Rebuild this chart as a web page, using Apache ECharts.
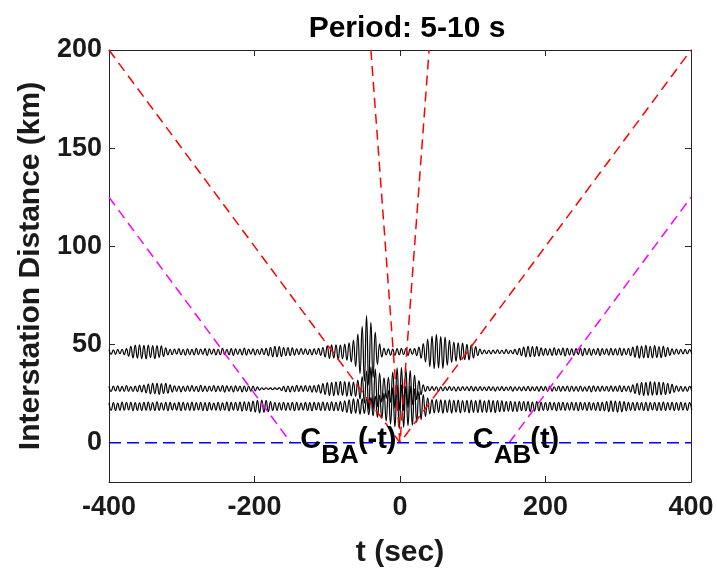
<!DOCTYPE html>
<html>
<head>
<meta charset="utf-8">
<script src="https://cdn.jsdelivr.net/npm/echarts@6/dist/echarts.min.js"></script>
<style>
  html, body { margin: 0; padding: 0; background: #ffffff; }
  #chart { width: 717px; height: 569px; }
</style>
</head>
<body>
<div id="chart"></div>
<script>
// Axis ranges and ticks
const xTicks = [-400, -200, 0, 200, 400];
const yTicks = [0, 50, 100, 150, 200];
const xRange = [-400, 400];
const yRange = [-20, 200];

// Cross-correlation traces: sample grid (s) and interstation distance (km) of each trace
const traceStart = -400;
const traceStep = 3;
const traceDistances = [46.3, 27.5, 18.5];

// Trace amplitudes (km of vertical offset) at successive half-period extremes
const traceA = [
  1.1,-1.2,1.0,-1.3,1.2,-1.0,1.3,-1.4,1.6,-2.2,
  2.8,-3.1,3.4,-3.2,3.6,-3.5,3.3,-3.6,3.4,-3.0,
  3.2,-3.5,3.1,-2.8,3.0,-2.4,2.0,-1.6,1.3,-1.5,
  1.4,-1.2,1.6,-1.5,1.3,-1.7,1.5,-1.4,1.2,-1.6,
  1.8,-1.5,1.4,-1.3,1.6,-1.8,1.5,-1.2,1.4,-1.6,
  1.3,-1.5,1.7,-1.4,1.2,-1.5,1.6,-1.8,1.5,-1.3,
  1.4,-1.6,1.9,-1.7,1.4,-1.2,1.5,-1.6,1.3,-1.4,
  1.6,-1.5,1.8,-2.0,2.3,-2.6,2.8,-2.5,2.7,-2.4,
  2.2,-2.0,2.1,-1.9,2.0,-1.7,1.5,-1.4,1.6,-1.3,
  1.5,-1.4,1.2,-1.6,1.5,-1.3,1.7,-1.8,2.2,-2.6,
  3.0,-3.4,3.6,-3.2,3.5,-3.8,3.4,-3.6,3.9,-4.2,
  4.6,-5.2,6.0,-7.5,9.0,-11.0,13.0,-15.0,18.5,-17.0,
  15.0,-13.0,10.0,-6.5,4.0,-2.6,1.8,-1.6,1.5,-1.7,
  1.4,-1.8,1.6,-1.5,1.7,-1.4,1.6,-1.8,1.5,-1.3,
  1.6,-1.9,2.4,-3.2,4.2,-5.2,6.5,-7.5,8.0,-8.5,
  8.8,-8.2,7.8,-8.4,7.5,-6.8,6.0,-5.4,5.0,-4.8,
  4.6,-4.2,4.4,-4.0,3.8,-4.1,3.6,-3.2,2.6,-2.0,
  1.4,-1.1,0.9,-1.0,0.8,-1.1,0.9,-0.8,1.0,-0.9,
  0.8,-1.0,1.1,-0.9,0.8,-1.0,1.2,-1.4,1.7,-2.0,
  2.4,-2.6,2.8,-2.5,2.7,-2.4,2.6,-2.2,2.0,-1.8,
  1.6,-1.7,1.5,-1.8,2.0,-1.7,1.5,-1.6,1.9,-2.1,
  1.8,-1.6,1.5,-1.7,1.6,-1.4,1.8,-2.0,1.7,-1.5,
  1.6,-1.8,1.4,-1.5,1.7,-1.9,1.6,-1.4,1.5,-1.7,
  1.8,-1.6,1.5,-1.7,1.9,-1.8,1.6,-1.5,1.7,-2.0,
  2.4,-2.7,3.0,-3.2,2.9,-3.1,3.3,-3.0,2.8,-3.1,
  3.2,-2.9,2.7,-3.0,2.8,-2.5,2.2,-1.8,1.5,-1.3,
  1.4,-1.2,1.3,-1.1,1.2,-1.0,1.1,-1.0
];
const traceB = [
  1.2,-1.4,1.3,-1.1,1.5,-1.3,1.2,-1.4,1.6,-1.3,
  1.1,-1.4,1.3,-1.5,1.7,-1.6,1.8,-2.1,2.4,-2.6,
  2.8,-2.5,2.7,-2.9,2.6,-2.4,2.7,-2.3,2.0,-1.7,
  1.5,-1.3,1.4,-1.6,1.2,-1.4,1.5,-1.3,1.6,-1.4,
  1.2,-1.5,1.7,-1.4,1.3,-1.5,1.4,-1.2,1.6,-1.5,
  1.3,-1.4,1.6,-1.7,1.5,-1.3,1.4,-1.6,1.5,-1.2,
  1.4,-1.6,1.3,-1.5,1.4,-1.2,1.3,-1.1,0.9,-0.7,
  0.5,-0.4,0.5,-0.3,0.4,-0.5,0.4,-0.3,0.6,-0.9,
  1.2,-1.5,1.4,-1.6,1.3,-1.5,1.7,-1.4,1.5,-1.3,
  1.6,-1.4,1.5,-1.7,1.6,-1.8,2.0,-2.3,2.6,-2.9,
  3.1,-3.4,3.2,-3.6,3.5,-3.3,3.7,-3.4,3.6,-3.8,
  3.5,-3.7,3.4,-3.9,4.4,-5.2,6.2,-7.4,9.0,-10.5,
  11.0,-10.6,10.0,-9.2,8.0,-6.8,5.6,-5.0,5.8,-7.0,
  8.5,-9.8,10.6,-11.0,10.8,-11.2,10.4,-9.6,9.2,-8.2,
  7.0,-5.6,4.2,-3.0,2.0,-1.4,1.2,-1.0,1.1,-0.9,
  1.0,-1.2,0.9,-1.1,1.0,-0.8,1.1,-0.9,1.0,-1.2,
  0.9,-1.0,1.1,-0.8,0.9,-1.0,1.2,-1.1,0.9,-1.0,
  1.1,-0.9,0.8,-1.0,1.1,-0.9,1.0,-1.2,1.0,-0.9,
  1.1,-1.0,0.8,-0.9,1.1,-1.2,1.0,-0.9,1.0,-1.1,
  0.9,-1.0,1.2,-1.1,0.9,-1.0,1.1,-1.3,1.2,-1.0,
  1.1,-1.3,1.4,-1.2,1.0,-1.1,1.3,-1.4,1.2,-1.1,
  1.3,-1.5,1.4,-1.2,1.1,-1.3,1.4,-1.2,1.0,-1.2,
  1.4,-1.6,1.5,-1.3,1.2,-1.4,1.3,-1.1,1.2,-1.4,
  1.5,-1.3,1.2,-1.4,1.6,-1.5,1.3,-1.2,1.4,-1.7,
  2.0,-2.4,2.8,-3.1,3.3,-3.5,3.2,-3.4,3.6,-3.3,
  3.5,-3.2,3.4,-3.1,3.3,-3.0,2.8,-2.5,2.2,-1.8,
  1.5,-1.3,1.2,-1.4,1.1,-1.3,1.2,-1.0
];
const traceC = [
  1.8,-2.0,1.9,-2.1,1.7,-2.0,2.2,-1.9,2.0,-1.8,
  2.1,-2.2,1.9,-2.0,1.8,-2.1,2.0,-1.9,2.2,-2.0,
  1.9,-2.1,2.3,-2.0,1.8,-1.9,2.1,-2.2,2.0,-1.8,
  1.7,-1.9,2.0,-2.2,2.1,-1.9,1.8,-2.0,2.2,-2.1,
  1.9,-1.8,2.0,-2.1,1.9,-2.2,2.0,-1.8,1.7,-1.9,
  2.1,-2.0,1.8,-1.9,2.2,-2.3,2.0,-1.9,2.1,-2.0,
  2.2,-2.4,2.3,-2.1,2.2,-2.5,2.7,-2.9,3.1,-3.3,
  3.2,-3.0,3.1,-2.7,2.4,-2.1,1.9,-2.0,1.8,-1.9,
  2.1,-2.0,1.8,-1.9,2.0,-2.2,2.1,-1.9,1.7,-1.8,
  2.0,-2.1,1.9,-2.2,2.0,-1.8,1.9,-2.1,2.2,-2.0,
  1.9,-2.1,2.3,-2.2,2.0,-2.1,2.4,-2.6,2.8,-3.1,
  3.3,-3.6,3.8,-3.5,3.7,-4.0,3.8,-3.6,3.9,-4.2,
  4.5,-4.8,5.2,-5.6,5.8,-6.2,6.8,-7.4,8.2,-9.0,
  9.6,-10.4,10.8,-11.4,11.0,-10.6,10.2,-9.8,10.4,-9.6,
  9.0,-8.2,7.6,-6.8,6.0,-5.2,4.4,-3.8,3.5,-3.3,
  3.4,-3.1,3.3,-3.5,3.2,-3.0,3.3,-3.4,3.1,-2.9,
  3.2,-3.3,3.0,-2.8,3.1,-3.3,3.2,-3.0,2.9,-3.1,
  3.3,-3.0,2.8,-3.1,3.2,-2.9,3.0,-3.2,2.9,-2.7,
  2.8,-2.6,2.5,-2.4,2.6,-2.5,2.3,-2.6,2.4,-2.2,
  2.5,-2.3,2.4,-2.6,2.2,-2.4,2.5,-2.3,2.1,-2.0,
  1.9,-2.1,2.0,-1.8,1.9,-2.2,2.0,-1.9,2.1,-2.0,
  1.8,-1.9,2.1,-2.0,1.9,-2.2,2.0,-1.8,1.9,-2.1,
  2.0,-1.9,1.8,-2.0,2.1,-2.2,2.0,-2.3,2.5,-2.7,
  2.8,-2.6,2.7,-2.9,2.6,-2.8,2.5,-2.3,2.1,-2.0,
  1.9,-2.1,2.0,-1.8,1.9,-2.1,2.0,-2.2,1.9,-1.8,
  2.0,-2.1,1.9,-2.0,2.2,-2.1,1.9,-1.8,2.0,-2.1,
  1.9,-2.0,2.1,-1.9,1.8,-2.0,1.9,-1.8
];

// Moveout lines [t (s), distance (km)]
const fastMoveout = [[-40, 200], [0, 0], [40, 200]];
const slowMoveout = [[-400, 200], [0, 0], [400, 200]];
const windowLeft = [[-400, 125], [-150, 0]];
const windowRight = [[150, 0], [400, 125]];
const zeroLine = [[-400, 0], [400, 0]];

// Branch annotations: anchor time (s), main letter, subscript, suffix
const branchLabels = [
  { t: -137, main: 'C', sub: 'BA', tail: '(-t)' },
  { t: 100, main: 'C', sub: 'AB', tail: '(t)' }
];

const FONT = 'Liberation Sans, Arial, Helvetica, sans-serif';
const AXIS_COLOR = '#262626';

function traceData(amps, dist) {
  return amps.map((a, i) => [traceStart + traceStep * i, dist + a]);
}

const traces = [traceA, traceB, traceC];

const chart = echarts.init(document.getElementById('chart'), null, { renderer: 'canvas' });

const dashed = (color) => ({ color: color, width: 1.5, type: [10, 6] });

const axisCommon = {
  axisLine: { show: true, onZero: false, lineStyle: { color: AXIS_COLOR, width: 1 } },
  axisTick: { show: true, inside: true, length: 6, lineStyle: { color: AXIS_COLOR, width: 1 } },
  splitLine: { show: false }
};

const option = {
  backgroundColor: '#ffffff',
  animation: false,
  title: {
    text: 'Period: 5-10 s',
    left: 402,
    top: 9,
    textAlign: 'center',
    textStyle: { fontFamily: FONT, fontSize: 30, fontWeight: 'bold', color: '#000000' }
  },
  grid: { left: 109, right: 26, top: 50, bottom: 87, containLabel: false, outerBoundsMode: 'none' },
  xAxis: [
    Object.assign({}, axisCommon, {
      type: 'value', position: 'bottom', min: xRange[0], max: xRange[1], interval: 200,
      axisLabel: { customValues: xTicks, fontFamily: FONT, fontSize: 27, fontWeight: 'bold', color: '#1a1a1a', margin: 12 },
      axisTick: Object.assign({}, axisCommon.axisTick, { customValues: xTicks }),
      name: 't (sec)', nameLocation: 'middle', nameGap: 56,
      nameTextStyle: { fontFamily: FONT, fontSize: 30, fontWeight: 'bold', color: '#1a1a1a' }
    }),
    Object.assign({}, axisCommon, {
      type: 'value', position: 'top', min: xRange[0], max: xRange[1], interval: 200,
      axisLabel: { show: false },
      axisTick: Object.assign({}, axisCommon.axisTick, { customValues: xTicks })
    })
  ],
  yAxis: [
    Object.assign({}, axisCommon, {
      type: 'value', position: 'left', min: yRange[0], max: yRange[1],
      axisLabel: { customValues: yTicks, fontFamily: FONT, fontSize: 27, fontWeight: 'bold', color: '#1a1a1a', margin: 7 },
      axisTick: Object.assign({}, axisCommon.axisTick, { customValues: yTicks }),
      name: 'Interstation Distance (km)', nameLocation: 'middle', nameGap: 63,
      nameTextStyle: { fontFamily: FONT, fontSize: 30, fontWeight: 'bold', color: '#1a1a1a' }
    }),
    Object.assign({}, axisCommon, {
      type: 'value', position: 'right', min: yRange[0], max: yRange[1],
      axisLabel: { show: false },
      axisTick: Object.assign({}, axisCommon.axisTick, { customValues: yTicks })
    })
  ],
  series: [
    ...traces.map((amps, k) => ({
      type: 'line',
      data: traceData(amps, traceDistances[k]),
      showSymbol: false, symbol: 'none', smooth: 0.5, clip: true,
      lineStyle: { color: '#000000', width: 1.2 },
      z: 2
    })),
    { type: 'line', data: slowMoveout, symbol: 'none', lineStyle: dashed('#ff0000'), z: 3 },
    { type: 'line', data: fastMoveout, symbol: 'none', lineStyle: dashed('#ff0000'), z: 3 },
    { type: 'line', data: windowLeft, symbol: 'none', lineStyle: dashed('#ff00ff'), z: 3 },
    { type: 'line', data: windowRight, symbol: 'none', lineStyle: dashed('#ff00ff'), z: 3 },
    { type: 'line', data: zeroLine, symbol: 'none', lineStyle: { color: '#0000ff', width: 1.5, type: [12, 6] }, z: 3 }
  ]
};

chart.setOption(option);

// Branch labels with subscripts, placed from data coordinates
const graphics = [];
branchLabels.forEach((b) => {
  const p = chart.convertToPixel({ xAxisIndex: 0, yAxisIndex: 0 }, [b.t, 0]);
  const mainStyle = { fontFamily: FONT, fontSize: 29, fontWeight: 'bold', fill: '#000000', verticalAlign: 'middle', align: 'left' };
  const subStyle = Object.assign({}, mainStyle, { fontSize: 26 });
  const subX = p[0] + 21;
  const tailX = subX + b.sub.length * 0.722 * 26 - 1;
  graphics.push({ type: 'text', x: p[0], y: p[1] - 3, z: 20, style: Object.assign({ text: b.main }, mainStyle) });
  graphics.push({ type: 'text', x: subX, y: p[1] + 13, z: 20, style: Object.assign({ text: b.sub }, subStyle) });
  graphics.push({ type: 'text', x: tailX, y: p[1] - 3, z: 20, style: Object.assign({ text: b.tail }, mainStyle) });
});
chart.setOption({ graphic: graphics });
</script>
</body>
</html>
